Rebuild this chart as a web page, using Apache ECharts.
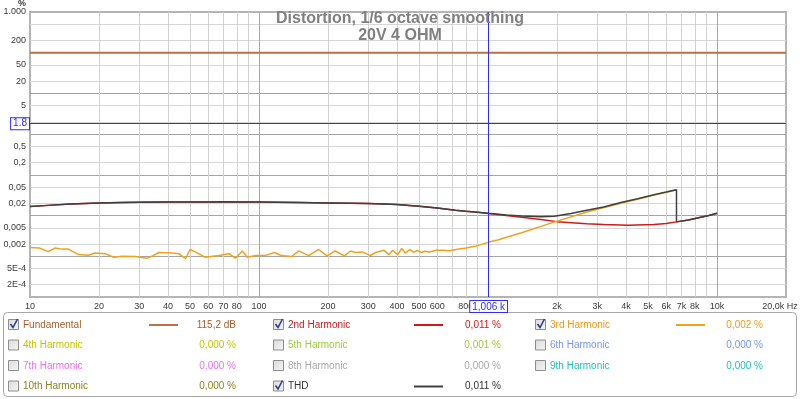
<!DOCTYPE html>
<html>
<head>
<meta charset="utf-8">
<script src="https://cdn.jsdelivr.net/npm/echarts@6/dist/echarts.min.js"></script>
<style>
  html, body { margin: 0; padding: 0; background: #fff; }
  #chart { width: 800px; height: 399px; }
</style>
</head>
<body>
<div id="chart"></div>
<script>
// ── axis ticks / labels ──
var xMinorTicks = [20,30,40,50,60,70,80,90,200,300,400,500,600,700,800,900,2000,3000,4000,5000,6000,7000,8000,9000];
var xMajorTicks = [100,1000,10000];
var xLabelVals = [10,20,30,40,50,60,70,80,100,200,300,400,500,600,800,2000,3000,4000,5000,6000,7000,8000,10000,20000];
var xLabelText = ['10','20','30','40','50','60','70','80','100','200','300','400','500','600','800','2k','3k','4k','5k','6k','7k','8k','10k','{end|20,0k Hz}'];

var yMinorTicks = [2e-4,5e-4,0.002,0.005,0.02,0.05,0.2,0.5,2,5,20,50,200,500];
var yMajorTicks = [0.001,0.01,0.1,1,10,100];
var yLabelVals = [2e-4,5e-4,0.002,0.005,0.02,0.05,0.2,0.5,5,20,50,200,1000];
var yLabelText = ['2E-4','5E-4','0,002','0,005','0,02','0,05','0,2','0,5','5','20','50','200','1.000'];

// ── series (Hz, %) ──
var fundFreq = [10, 20000];
var fundPct = [100, 100];

var h2Freq = [10,12,15,20,25,30,40,50,60,70,80,100,120,150,200,250,300,350,400,500,600,720,800,900,1000,1200,1400,1700,2000,2400,2700,3200,4100,5300,6000,6650,7500,8300,9200,10000];
var h2Pct = [0.0166,0.0178,0.0193,0.0205,0.0209,0.0212,0.0214,0.0215,0.0216,0.0217,0.0215,0.0214,0.0212,0.0209,0.0205,0.0201,0.0197,0.0192,0.0186,0.0169,0.0153,0.0135,0.0127,0.0120,0.0112,0.0100,0.0091,0.0080,0.0071,0.0066,0.0063,0.0060,0.0058,0.0060,0.0064,0.0070,0.0078,0.0088,0.0100,0.0114];

var h3Freq = [10,11,12,12.9,13.8,14.7,16.3,18,19.2,21.3,23.2,25.2,28.8,32.4,34,36.5,41.6,44.6,47.8,50,52.7,58,66.7,73.9,78.9,84.6,89,96.5,106,117,125,139,149,165,182,198,215,236,251,264,283,306,323,351,370,383,403,420,436,455,474,491,512,529,555,593,634,677,725,800,890,1000,1100,1400,1940,2700,3800,4500,5300,6000,6650];
var h3Pct = [0.00164,0.0016,0.0013,0.0016,0.0015,0.0015,0.0011,0.00106,0.0012,0.00116,0.00095,0.0010,0.00099,0.0009,0.0010,0.00124,0.0012,0.00116,0.00087,0.00147,0.00128,0.00095,0.00105,0.00116,0.0009,0.00135,0.00095,0.00105,0.00104,0.00124,0.00104,0.00099,0.00136,0.00104,0.00147,0.00102,0.00135,0.00102,0.00135,0.00124,0.00128,0.00104,0.00124,0.0014,0.0011,0.0014,0.0011,0.00155,0.0012,0.00147,0.00124,0.0014,0.00124,0.00133,0.00128,0.0014,0.0014,0.00136,0.00147,0.0016,0.0018,0.0022,0.0025,0.0038,0.0069,0.0122,0.0200,0.0250,0.0318,0.0375,0.0430];

var thdFreq = [10,12,15,20,25,30,40,50,60,70,80,100,120,150,200,250,300,350,400,500,600,720,800,900,1000,1200,1400,1700,1950,2300,2700,3200,3800,4500,5300,6000,6650,6650,7500,8300,9200,10000];
var thdPct = [0.0166,0.0178,0.0193,0.0205,0.0209,0.0212,0.0214,0.0215,0.0216,0.0217,0.0215,0.0214,0.0212,0.0209,0.0205,0.0201,0.0197,0.0192,0.0186,0.0169,0.0153,0.0136,0.0128,0.0121,0.0114,0.0104,0.0097,0.0093,0.0096,0.0113,0.0135,0.0162,0.0210,0.0258,0.0325,0.0380,0.0433,0.0070,0.0078,0.0088,0.0100,0.0114];

var cursorFreq = 1006;
var cursorPct = 1.8;

// ── legend panel ──
var legendNames = ['Fundamental','2nd Harmonic','3rd Harmonic','4th Harmonic','5th Harmonic','6th Harmonic','7th Harmonic','8th Harmonic','9th Harmonic','10th Harmonic','THD'];
var legendValues = ['115,2 dB','0,011 %','0,002 %','0,000 %','0,001 %','0,000 %','0,000 %','0,000 %','0,000 %','0,000 %','0,011 %'];
var legendOn = [true,true,true,false,false,false,false,false,false,false,true];

var font = 'Liberation Sans, Arial, sans-serif';
var cFund = '#B8733F', c2 = '#D11A1A', c3 = '#F2A11B', cThd = '#404040', cCursor = '#2E2EF0';
var legendColors = ['#A5602F', c2, '#EE9A18', '#C9C200', '#9CCB38', '#7896EC', '#EC6FEC', '#A9A9A9', '#22BDBD', '#8C8320', '#333333'];
var lineColors = [cFund, c2, c3, null, null, null, null, null, null, null, cThd];

function pairs(xs, ys) { return xs.map(function(x, i) { return [x, ys[i]]; }); }
function pick(vals, texts) {
  return function(v) {
    for (var i = 0; i < vals.length; i++) {
      if (Math.abs(v - vals[i]) / vals[i] < 1e-6) return texts[i];
    }
    return '';
  };
}

// legend graphic
var colX = [8, 273, 535];
var rowY = [325, 345.5, 366, 386.5];
var legendEls = [{
  type: 'rect', shape: { x: 3.5, y: 312.5, width: 793, height: 84, r: 4 },
  style: { fill: '#fff', stroke: '#A6A6A6', lineWidth: 1 }
}];
legendNames.forEach(function(name, i) {
  var x0 = colX[i % 3], ry = rowY[Math.floor(i / 3)];
  legendEls.push({
    type: 'rect', shape: { x: x0 + 0.5, y: ry - 5.5, width: 10, height: 10 },
    style: { fill: new echarts.graphic.LinearGradient(0, 0, 1, 1, [
      { offset: 0, color: '#DADADA' }, { offset: 1, color: '#F6F6F6' }]),
      stroke: '#8E8E8E', lineWidth: 1 }
  });
  if (legendOn[i]) {
    legendEls.push({
      type: 'polyline', shape: { points: [[x0 + 2.5, ry - 1], [x0 + 5, ry + 2.5], [x0 + 9.5, ry - 6]] },
      style: { stroke: '#2D3F8C', lineWidth: 1.6, fill: null }
    });
    legendEls.push({
      type: 'line', shape: { x1: x0 + 141, y1: ry, x2: x0 + 170, y2: ry },
      style: { stroke: lineColors[i], lineWidth: 2 }
    });
  }
  legendEls.push({
    type: 'text', x: x0 + 15, y: ry,
    style: { text: name, fill: legendColors[i], font: '10px ' + font, verticalAlign: 'middle' }
  });
  legendEls.push({
    type: 'text', x: x0 + 228, y: ry,
    style: { text: legendValues[i], fill: legendColors[i], font: '10px ' + font, align: 'right', verticalAlign: 'middle' }
  });
});

var chart = echarts.init(document.getElementById('chart'), null, { renderer: 'canvas' });
var titleStyle = { color: '#808080', fontSize: 16, fontWeight: 'bold', fontFamily: font };
chart.setOption({
  animation: false,
  backgroundColor: '#fff',
  textStyle: { fontFamily: font },
  title: [
    { text: 'Distortion, 1/6 octave smoothing', left: 'center', top: 11, padding: 0, textStyle: titleStyle },
    { text: '20V 4 OHM', left: 'center', top: 28, padding: 0, textStyle: titleStyle }
  ],
  grid: { left: 30, right: 14, top: 12, bottom: 102, outerBoundsMode: 'none', containLabel: false,
    show: true, borderColor: '#B4B4B4', borderWidth: 2 },
  xAxis: [{
    type: 'log', logBase: 10, min: 10, max: 20000,
    axisLine: { show: false },
    axisTick: { show: false, customValues: xMinorTicks },
    axisLabel: { customValues: xLabelVals, formatter: pick(xLabelVals, xLabelText),
      color: '#3A3A3A', fontSize: 9, margin: 5,
      rich: { end: { color: '#3A3A3A', fontSize: 9, padding: [0, 12, 0, 0] } } },
    splitLine: { show: true, lineStyle: { color: '#D2D2D2', width: 1 } }
  }, {
    type: 'log', logBase: 10, min: 10, max: 20000, position: 'bottom',
    axisLine: { show: false },
    axisTick: { show: false, customValues: xMajorTicks },
    axisLabel: { show: false },
    splitLine: { show: true, lineStyle: { color: '#A8A8A8', width: 1 } }
  }],
  yAxis: [{
    type: 'log', logBase: 10, min: 1e-4, max: 1000,
    name: '%', nameLocation: 'end', nameGap: 2,
    nameTextStyle: { color: '#3A3A3A', fontSize: 9, fontWeight: 'bold', align: 'right', padding: [0, 4, 0, 0] },
    axisLine: { show: false },
    axisTick: { show: false, customValues: yMinorTicks },
    axisLabel: { customValues: yLabelVals, formatter: pick(yLabelVals, yLabelText),
      color: '#3A3A3A', fontSize: 9, margin: 4 },
    splitLine: { show: true, lineStyle: { color: '#D6D6D6', width: 1 } }
  }, {
    type: 'log', logBase: 10, min: 1e-4, max: 1000, position: 'left',
    axisLine: { show: false },
    axisTick: { show: false, customValues: yMajorTicks },
    axisLabel: { show: false },
    splitLine: { show: true, lineStyle: { color: '#A4A4A4', width: 1 } }
  }],
  series: [
    { name: 'Fundamental', type: 'line', data: pairs(fundFreq, fundPct), symbol: 'none',
      lineStyle: { color: cFund, width: 2 } },
    { name: '2nd Harmonic', type: 'line', data: pairs(h2Freq, h2Pct), symbol: 'none',
      lineStyle: { color: c2, width: 1.5 } },
    { name: '3rd Harmonic', type: 'line', data: pairs(h3Freq, h3Pct), symbol: 'none',
      lineStyle: { color: c3, width: 1.5 } },
    { name: 'THD', type: 'line', data: pairs(thdFreq, thdPct), symbol: 'none',
      lineStyle: { color: cThd, width: 1.5 },
      markLine: {
        silent: true, symbol: 'none', animation: false,
        lineStyle: { color: cCursor, width: 1, type: 'solid' },
        data: [
          { xAxis: cursorFreq, label: { show: true, position: 'start', distance: 4,
              formatter: '1,006 k', color: cCursor, fontSize: 10, backgroundColor: '#fff',
              borderColor: cCursor, borderWidth: 1, padding: [1, 2, 0, 2] } },
          { yAxis: cursorPct, label: { show: true, position: 'start', distance: 1,
              formatter: '1.8', color: cCursor, fontSize: 10, backgroundColor: '#fff',
              borderColor: cCursor, borderWidth: 1, padding: [1, 2, 0, 2] } }
        ]
      } }
  ],
  graphic: legendEls
});
</script>
</body>
</html>
